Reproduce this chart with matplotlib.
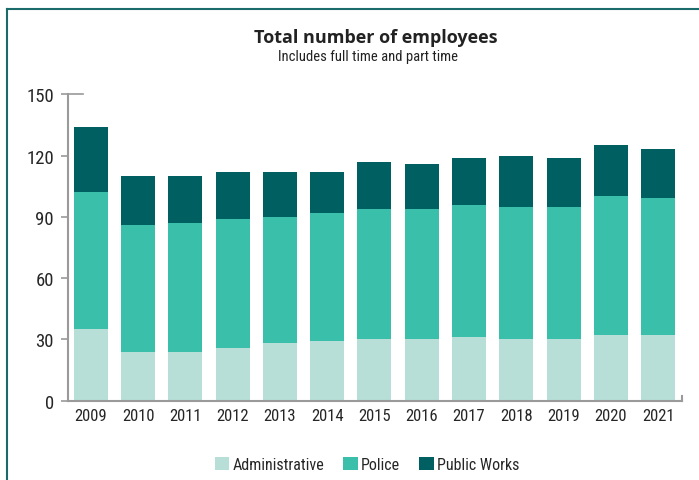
import matplotlib.pyplot as plt
from matplotlib.lines import Line2D
from matplotlib import font_manager
import numpy as np

years = ['2009', '2010', '2011', '2012', '2013', '2014', '2015',
         '2016', '2017', '2018', '2019', '2020', '2021']
admin = [35, 24, 24, 26, 28, 29, 30, 30, 31, 30, 30, 32, 32]
police = [67, 62, 63, 63, 62, 63, 64, 64, 65, 65, 65, 68, 67]
public_works = [32, 24, 23, 23, 22, 20, 23, 22, 23, 25, 24, 25, 24]
yticks = [0, 30, 60, 90, 120, 150]

c_admin = '#b7dfd7'
c_police = '#3abfab'
c_pw = '#005f60'
grey = '#9a9a9a'
txt = '#262626'

# use a narrow face if one is around, otherwise Roboto
installed = {f.name for f in font_manager.fontManager.ttflist}
narrow_font = 'Roboto'
for cand in ['Liberation Sans Narrow', 'Roboto Condensed', 'Open Sans Condensed']:
    if cand in installed:
        narrow_font = cand
        break
narrow = [narrow_font, 'DejaVu Sans']

fig = plt.figure(figsize=(6.99, 4.81), dpi=100)
ax = fig.add_axes([0.0973, 0.1649, 0.878, 0.637])

x = np.arange(len(years))
admin_a = np.array(admin)
police_a = np.array(police)
pw_a = np.array(public_works)
w = 0.72
ax.bar(x, admin_a, w, color=c_admin, label='Administrative')
ax.bar(x, police_a, w, bottom=admin_a, color=c_police, label='Police')
ax.bar(x, pw_a, w, bottom=admin_a + police_a, color=c_pw, label='Public Works')

ax.set_xlim(-0.482, 12.5)
ax.set_ylim(0, 150)
ax.set_yticks(yticks)
ax.set_xticks(x)
ax.set_xticklabels(years, fontfamily=narrow, fontsize=12, color=txt)
ax.set_yticklabels([str(v) for v in yticks], fontfamily=narrow, fontsize=13.5, color=txt)
ax.tick_params(axis='x', length=0, pad=5)
ax.tick_params(axis='y', length=5, width=1.2, color=grey, pad=5)

for s in ['top', 'right']:
    ax.spines[s].set_visible(False)
for s in ['left', 'bottom']:
    ax.spines[s].set_color(grey)
    ax.spines[s].set_linewidth(1.5)

# small caps at the ends of the axis lines
ax.plot([0, 0.024], [1, 1], transform=ax.transAxes, color=grey, lw=1.2, clip_on=False)
ax.plot([1, 1], [0, 0.014], transform=ax.transAxes, color=grey, lw=1.5, clip_on=False)

fig.text(0.537, 0.921, 'Total number of employees', ha='center', va='center',
         fontsize=13, fontweight='bold', fontfamily='Open Sans', color='#222222')
fig.text(0.527, 0.881, 'Includes full time and part time', ha='center', va='center',
         fontsize=10.5, fontfamily=narrow, color='#222222')

leg = fig.legend(loc='center', bbox_to_anchor=(0.525, 0.033), ncol=3, frameon=False,
                 handlelength=0.9, handleheight=0.9, handletextpad=0.2,
                 columnspacing=1.2, prop={'family': narrow, 'size': 11.5})
for t in leg.get_texts():
    t.set_color(txt)

frame = '#1b6b6b'
fig.add_artist(Line2D([0.0107, 0.0107], [0, 0.979], color=frame, lw=1.5))
fig.add_artist(Line2D([0.0107, 1], [0.979, 0.979], color=frame, lw=1.5))

fig.savefig('out.png', dpi=100)
